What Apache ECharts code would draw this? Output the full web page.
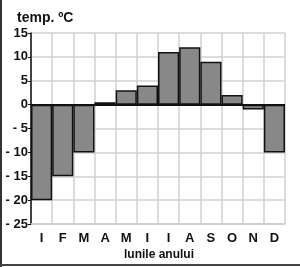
<!DOCTYPE html>
<html><head><meta charset="utf-8">
<script src="https://cdn.jsdelivr.net/npm/echarts@6/dist/echarts.min.js"></script>
<style>html,body{margin:0;padding:0;background:#fff}#c{width:300px;height:267px}</style>
</head><body><div id="c"></div>
<script>
var months = ['I','F','M','A','M','I','I','A','S','O','N','D'];
var temps = [-20,-15,-10,0.5,3,4,11,12,9,2,-1,-10];
var yTicks = {min:-25, max:15, interval:5};
var chart = echarts.init(document.getElementById('c'));
chart.setOption({
  animation:false,
  grid:{left:31,right:15,top:33,bottom:43},
  graphic:[
    {type:'text',left:17,top:11,style:{text:'temp. ºC',font:'bold 14px "Liberation Sans", Arial',fill:'#111'}},
    {type:'text',left:124,top:249,style:{text:'lunile anului',font:'bold 12px "Liberation Sans", Arial',fill:'#111'}},
    {type:'line',shape:{x1:1,y1:0,x2:1,y2:267},style:{stroke:'#333',lineWidth:2}},
    {type:'line',shape:{x1:0,y1:265,x2:300,y2:265},style:{stroke:'#444',lineWidth:2}}
  ],
  xAxis:{type:'category',data:months,
    axisLine:{onZero:false,lineStyle:{color:'#ccc',width:1.5}},
    axisTick:{show:false},
    splitLine:{show:true,lineStyle:{color:'#d0d0d0',width:1.5}},
    axisLabel:{color:'#111',fontWeight:'bold',fontSize:13,fontFamily:'Liberation Sans',margin:8,interval:0}
  },
  yAxis:{type:'value',min:yTicks.min,max:yTicks.max,interval:yTicks.interval,
    axisLine:{show:true,lineStyle:{color:'#111',width:1.5}},
    axisTick:{show:true,length:3,lineStyle:{color:'#111'}},
    splitLine:{lineStyle:{color:'#d0d0d0',width:1.5}},
    axisLabel:{color:'#111',fontWeight:'bold',fontSize:13,fontFamily:'Liberation Sans',margin:3,
      formatter:function(v){return v<0?'- '+(-v):String(v);}}
  },
  series:[{type:'bar',data:temps,barCategoryGap:'0%',
    itemStyle:{color:'#888',borderColor:'#111',borderWidth:1.5},
    markLine:{silent:true,symbol:'none',label:{show:false},
      lineStyle:{color:'#111',width:2,type:'solid'},data:[{yAxis:0}]}
  }]
});
</script></body></html>
